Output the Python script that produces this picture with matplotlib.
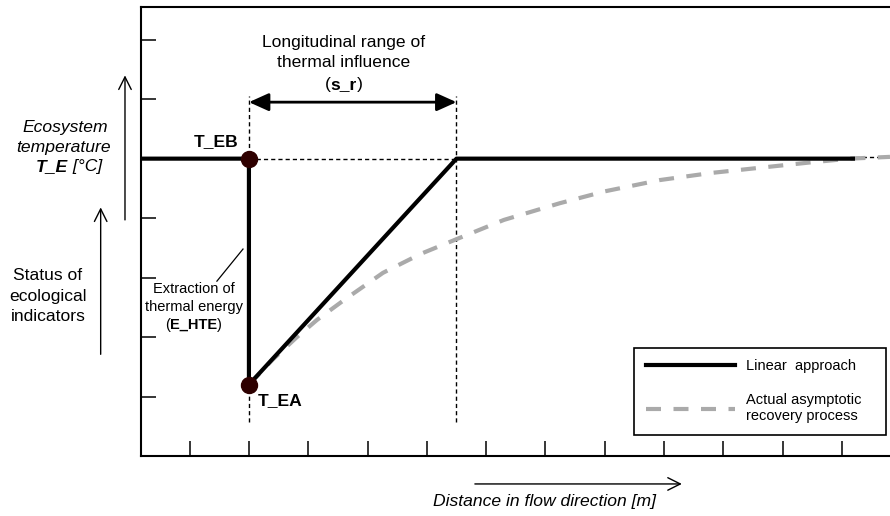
import matplotlib
matplotlib.use("Agg")
import matplotlib.pyplot as plt
from matplotlib.lines import Line2D

plt.rcParams["font.family"] = ["Liberation Sans", "DejaVu Sans"]

# schematic values (x: distance units, y: temperature / status units)
linear_x = [-1.82, 0.0, 0.0, 3.5, 10.22]
linear_y = [5.0, 5.0, 1.2, 5.0, 5.0]

curve_x = [0.0, 0.4, 0.81, 1.15, 1.6, 2.26, 2.9, 3.51, 4.3, 5.24, 6.0, 6.93, 7.8, 8.74, 9.5, 10.13, 10.81]
curve_y = [1.2, 1.62, 2.0, 2.29, 2.62, 3.08, 3.40, 3.65, 3.97, 4.25, 4.45, 4.64, 4.76, 4.86, 4.94, 5.0, 5.03]

point_x = [0.0, 0.0]
point_y = [5.0, 1.2]
point_labels = ["T_EB", "T_EA"]

s_r_start, s_r_end = 0.0, 3.5
t_base = 5.0

x_ticks = list(range(-1, 11))
y_ticks = list(range(1, 8))

legend_labels = ["Linear  approach", "Actual asymptotic\nrecovery process"]

BIG = 12.6
SMALL = 10.5

fig = plt.figure(figsize=(8.9, 5.16), dpi=100)
ax = fig.add_axes([141 / 890, 60 / 516, 749 / 890, 449 / 516])
ax.set_xlim(-1.82, 10.81)
ax.set_ylim(0, 7.55)

for s in ("left", "bottom", "top"):
    ax.spines[s].set_linewidth(1.5)
ax.spines["right"].set_visible(False)
ax.set_xticks(x_ticks)
ax.set_yticks(y_ticks)
ax.tick_params(direction="in", length=10.5, width=1.1, labelbottom=False, labelleft=False)

thin = dict(color="black", lw=1.0, dashes=(3, 2.2))
# guide lines
ax.plot([s_r_start, s_r_start], [0.57, 6.05], **thin)
ax.plot([s_r_end, s_r_end], [0.57, 6.05], **thin)
ax.plot([s_r_start, s_r_end], [t_base, t_base], **thin)
ax.plot([linear_x[-1], ax.get_xlim()[1]], [t_base + 0.02, t_base + 0.02], **thin)

ax.plot(curve_x, curve_y, color="#aaaaaa", lw=3, dashes=(3.6, 3.0), zorder=3)
ax.plot(linear_x, linear_y, color="black", lw=3, solid_capstyle="butt", zorder=4)
ax.plot(point_x, point_y, "o", color="#2e0000", ms=11.5, zorder=5)

# point labels
ax.text(-0.18, 5.28, point_labels[0], ha="right", va="center", fontsize=BIG, fontweight="bold")
ax.text(0.15, 0.94, point_labels[1], ha="left", va="center", fontsize=BIG, fontweight="bold")

# range of thermal influence
ax.annotate("", xy=(s_r_end, 5.95), xytext=(s_r_start, 5.95),
            arrowprops=dict(arrowstyle="<|-|>,head_length=0.6,head_width=0.27",
                            lw=2, color="black", mutation_scale=20, shrinkA=0, shrinkB=0))
ax.text(1.6, 6.96, "Longitudinal range of", ha="center", va="center", fontsize=BIG)
ax.text(1.6, 6.61, "thermal influence", ha="center", va="center", fontsize=BIG)


def paren_bold(x, y, s, size):
    t = ax.text(x, y, s, ha="center", va="center", fontsize=size, fontweight="bold")
    ax.annotate("(", xy=(0, 0), xycoords=t, ha="right", va="bottom", fontsize=size)
    ax.annotate(")", xy=(1, 0), xycoords=t, ha="left", va="bottom", fontsize=size)


paren_bold(1.6, 6.24, "s_r", BIG)

# extraction label
ax.text(-0.93, 2.81, "Extraction of", ha="center", va="center", fontsize=SMALL)
ax.text(-0.93, 2.50, "thermal energy", ha="center", va="center", fontsize=SMALL)
paren_bold(-0.93, 2.20, "E_HTE", SMALL)
ax.plot([-0.54, -0.10], [2.94, 3.48], color="black", lw=0.9)

# left side labels and arrows
ax.text(-3.10, 5.53, "Ecosystem", ha="center", va="center", fontsize=BIG, style="italic", clip_on=False)
ax.text(-3.12, 5.18, "temperature", ha="center", va="center", fontsize=BIG, style="italic", clip_on=False)
te = ax.text(-3.05, 4.86, "T_E", ha="right", va="center", fontsize=BIG, style="italic",
             fontweight="bold", clip_on=False)
ax.annotate(" [°C]", xy=(1, 0), xycoords=te, ha="left", va="bottom", fontsize=BIG, style="italic")

for i, line in enumerate(["Status of", "ecological", "indicators"]):
    ax.text(-3.39, 3.03 - i * 0.345, line, ha="center", va="center", fontsize=BIG, clip_on=False)

open_arrow = dict(arrowstyle="->,head_length=0.6,head_width=0.3", lw=1.0, color="black",
                  mutation_scale=15, shrinkA=0, shrinkB=0)
ax.annotate("", xy=(-2.09, 6.40), xytext=(-2.09, 3.97), arrowprops=open_arrow, annotation_clip=False)
ax.annotate("", xy=(-2.50, 4.18), xytext=(-2.50, 1.71), arrowprops=open_arrow, annotation_clip=False)

# bottom label
ax.annotate("", xy=(7.30, -0.47), xytext=(3.81, -0.47), arrowprops=open_arrow, annotation_clip=False)
ax.text(4.99, -0.77, "Distance in flow direction [m]", ha="center", va="center", fontsize=BIG,
        style="italic", clip_on=False)

handles = [
    Line2D([], [], color="black", lw=3),
    Line2D([], [], color="#aaaaaa", lw=3, dashes=(3.6, 3.0)),
]
leg = ax.legend(handles, legend_labels, loc="lower left",
                bbox_to_anchor=(634 / 890, 81 / 516, 252 / 890, 89 / 516),
                bbox_transform=fig.transFigure, mode="expand", fancybox=False,
                edgecolor="black", framealpha=1, borderaxespad=0, handlelength=6.1,
                handletextpad=0.75, borderpad=0.8, labelspacing=1.35, fontsize=SMALL)
leg.get_frame().set_linewidth(1.2)
leg.set_zorder(10)

fig.savefig("out.png", dpi=100)
